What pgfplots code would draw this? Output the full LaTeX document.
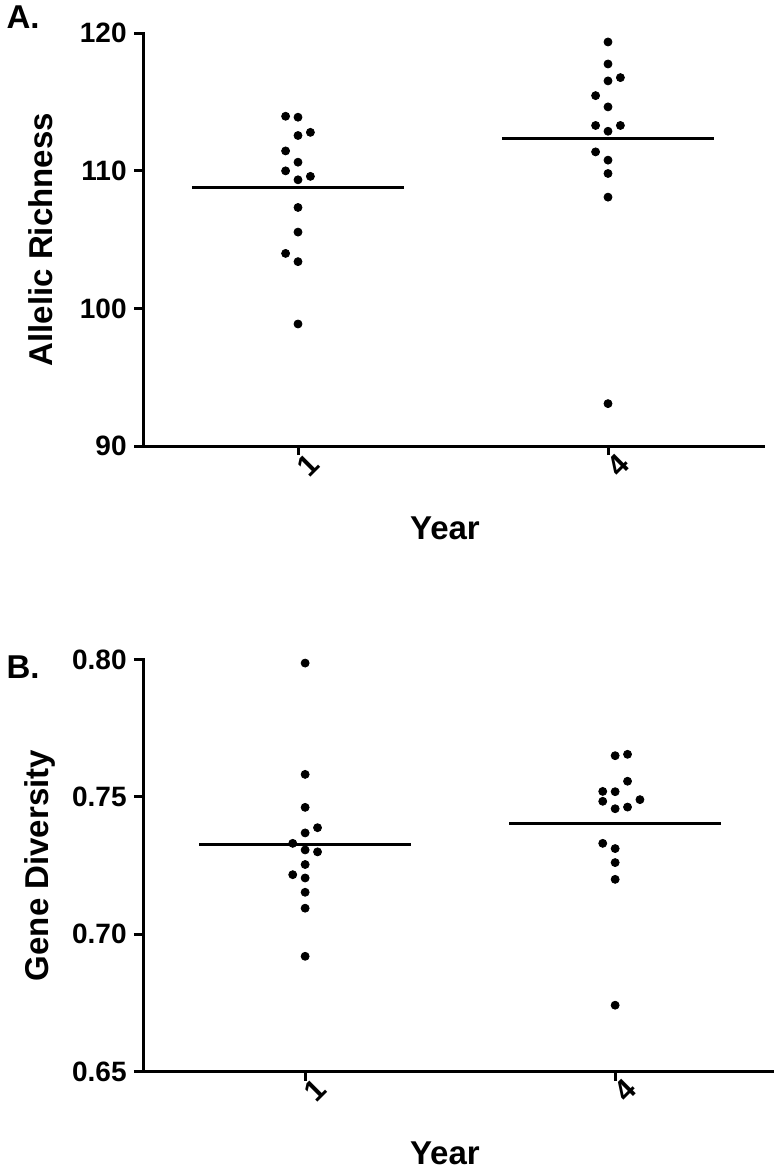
\documentclass[border=0pt]{standalone}
\usepackage{pgfplots}
\pgfplotsset{compat=1.18}
\usepackage{fontspec}
\setmainfont{Liberation Sans}
\begin{document}
\begin{tikzpicture}
\useasboundingbox (0,0) rectangle (389pt,-585pt);
\pgfplotsset{
  every axis/.append style={
    scale only axis, clip=false,
    axis x line*=bottom, axis y line*=left,
    axis line style={-, line width=1.5pt, line cap=rect},
    tick align=outside, major tick length=4.5pt,
    tick style={line width=1.5pt, black},
    xtick={1,2}, xticklabels={1,4},
    /pgf/number format/assume math mode=true,
    tick label style={font=\fontsize{14}{16}\selectfont\bfseries},
    yticklabel style={inner sep=3.5pt},
    xticklabel style={rotate=45, anchor=center, yshift=-7pt, font=\fontsize{15}{16}\selectfont\bfseries},
    label style={font=\fontsize{16.5}{18}\selectfont\bfseries},
    ylabel style={anchor=center, rotate=0},
    xlabel style={anchor=center},
  },
  dots/.style={only marks, mark=*, mark size=2pt, black},
  mean/.style={black, line width=1.65pt, no marks},
}
% Panel A
\begin{axis}[at={(71.5pt,-223pt)}, anchor=south west,
  width=310pt, height=206.35pt,
  xmin=0.5, xmax=2.5, ymin=90, ymax=120, ytick={90,100,110,120},
  ylabel={Allelic Richness}, xlabel={Year},
  ylabel style={at={(axis description cs:-0.165,0.5)}},
  xlabel style={at={(axis description cs:0.487,-0.199)}},
]
\addplot[dots] coordinates {(0.96,113.97)(1,113.9)(1.04,112.8)(1,112.57)(0.96,111.45)(1,110.63)(0.96,110.0)(1.04,109.6)(1,109.35)(1,107.34)(1,105.55)(0.96,104.0)(1,103.4)(1,98.87)};
\addplot[dots] coordinates {(2,119.37)(2,117.77)(2.04,116.78)(2,116.54)(1.96,115.47)(2,114.65)(1.96,113.3)(2.04,113.3)(2,112.88)(1.96,111.38)(2,110.78)(2,109.81)(2,108.09)(2,93.08)};
\addplot[mean] coordinates {(0.658,108.8)(1.342,108.8)};
\addplot[mean] coordinates {(1.658,112.37)(2.342,112.37)};
\end{axis}
% Panel B
\begin{axis}[at={(71.5pt,-535.85pt)}, anchor=south west,
  width=314.5pt, height=206.1pt,
  xmin=0.477, xmax=2.506, ymin=0.65, ymax=0.80, ytick={0.65,0.70,0.75,0.80},
  yticklabel style={/pgf/number format/.cd, fixed, fixed zerofill, precision=2},
  ylabel={Gene Diversity}, xlabel={Year},
  ylabel style={at={(axis description cs:-0.164,0.5)}},
  xlabel style={at={(axis description cs:0.480,-0.197)}},
]
\addplot[dots] coordinates {(1,0.7987)(1,0.7582)(1,0.7462)(1.04,0.7388)(1,0.7369)(0.96,0.7331)(1,0.7307)(1.04,0.7300)(1,0.7254)(0.96,0.7217)(1,0.7205)(1,0.7153)(1,0.7095)(1,0.6920)};
\addplot[dots] coordinates {(2,0.7650)(2.04,0.7655)(2.04,0.7557)(1.96,0.7520)(2,0.7519)(1.96,0.7484)(2,0.7457)(2.04,0.7463)(2.08,0.7490)(1.96,0.7331)(2,0.7312)(2,0.7261)(2,0.7200)(2,0.6742)};
\addplot[mean] coordinates {(0.658,0.7327)(1.342,0.7327)};
\addplot[mean] coordinates {(1.658,0.7404)(2.342,0.7404)};
\end{axis}
\node[font=\fontsize{16.5}{18}\selectfont\bfseries] at (11.5pt,-8.5pt) {A.};
\node[font=\fontsize{16.5}{18}\selectfont\bfseries] at (11.5pt,-333.5pt) {B.};
\end{tikzpicture}
\end{document}
